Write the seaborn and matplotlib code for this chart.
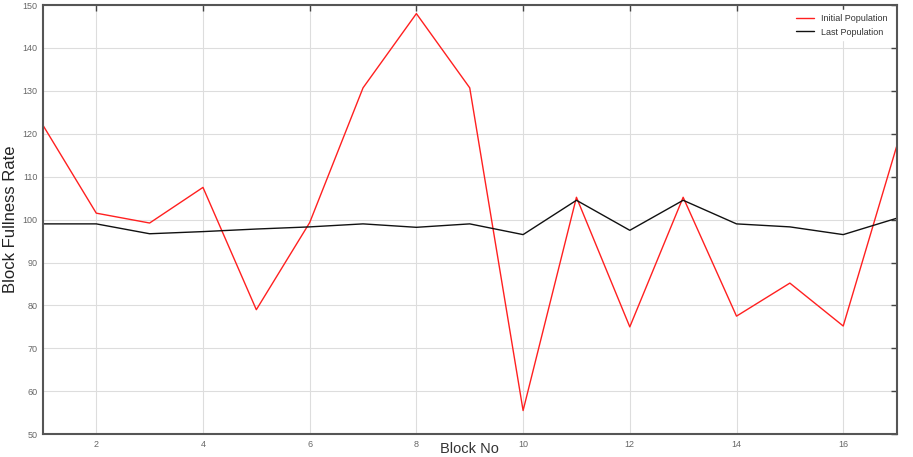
import numpy as np
import pandas as pd
import matplotlib
matplotlib.use("Agg")
import matplotlib.pyplot as plt
import seaborn as sns

block_no = list(range(1, 18))
initial_population = [122, 101.5, 99.2, 107.5, 79, 99.3, 130.7, 148, 130.7, 55.5, 105.2, 75, 105.2, 77.5, 85.2, 75.2, 117]
last_population = [99, 99, 96.7, 97.2, 97.8, 98.3, 99, 98.2, 99, 96.5, 104.5, 97.5, 104.5, 99, 98.3, 96.5, 100.3]
x_ticks = [2, 4, 6, 8, 10, 12, 14, 16]
y_ticks = [50, 60, 70, 80, 90, 100, 110, 120, 130, 140, 150]

sns.set_style("white")
plt.rcParams['font.family'] = ['Liberation Sans', 'DejaVu Sans']

df = pd.DataFrame({"Block No": block_no, "Initial Population": initial_population,
                   "Last Population": last_population})

fig = plt.figure(figsize=(9.13, 4.57), dpi=100)
ax = fig.add_axes([0.047, 0.05, 0.935, 0.939])
sns.lineplot(data=df, x="Block No", y="Initial Population", color="#ff2020", lw=1.0,
             ax=ax, label="Initial Population")
sns.lineplot(data=df, x="Block No", y="Last Population", color="#111111", lw=1.0,
             ax=ax, label="Last Population")

ax.set_xlim(1, 17)
ax.set_ylim(50, 150)
ax.set_xticks(x_ticks)
ax.set_yticks(y_ticks)
ax.grid(True, color="#dddddd", lw=0.8)
ax.set_axisbelow(True)
ax.tick_params(direction="in", length=4, width=1, colors="#444444", labelsize=6.5,
               labelcolor="#666666", top=True, right=True, pad=4)
for s in ax.spines.values():
    s.set_color("#555555")
    s.set_linewidth(1.5)
ax.set_xlabel("Block No", fontsize=10.5, color="#333333", va="bottom")
ax.xaxis.set_label_coords(0.5, -0.0505)
ax.set_ylabel("Block Fullness Rate", fontsize=12, color="#222222", labelpad=3)
leg = ax.legend(loc="upper right", fontsize=6.5, frameon=True, fancybox=False,
                edgecolor="white", framealpha=1, borderaxespad=0.6)
for t in leg.get_texts():
    t.set_color("#333333")
fig.savefig("out.png", dpi=100)
